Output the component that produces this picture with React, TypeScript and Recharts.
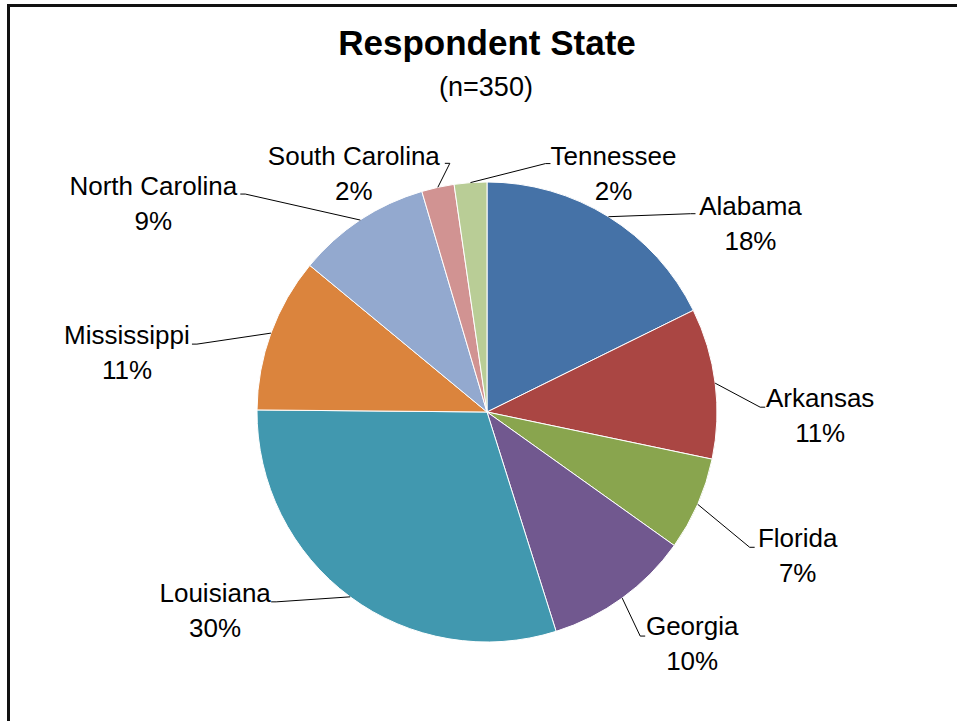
import React from 'react';
import { PieChart, Pie, Cell } from 'recharts';

const states = ['Alabama', 'Arkansas', 'Florida', 'Georgia', 'Louisiana', 'Mississippi', 'North Carolina', 'South Carolina', 'Tennessee'];
const counts = [62, 37, 23, 36, 105, 38, 33, 8, 8];
const colors = ['#4572A7', '#AA4643', '#89A54E', '#71588F', '#4198AF', '#DB843D', '#93A9CF', '#D19392', '#B9CD96'];

const title = 'Respondent State';
const subtitle = '(n=350)';

// label layout: leader end offset from slice edge (dx, dy), text centre offset from end (tx), baseline offset (by)
const labelLayout = [
  { dx: 87, dy: -3, tx: 55, by: 1 },
  { dx: 50, dy: 24, tx: 55, by: 0 },
  { dx: 57, dy: 43, tx: 43, by: 0 },
  { dx: 23, dy: 38, tx: 47, by: -1 },
  { dx: -79, dy: 5, tx: -56, by: 0 },
  { dx: -79, dy: 11, tx: -65, by: 0 },
  { dx: -120, dy: -26, tx: -87, by: 1 },
  { dx: 7, dy: -24, tx: -91, by: 2 },
  { dx: 80, dy: -19, tx: 63, by: 1 },
];

const data = states.map((name, i) => ({ name, value: counts[i] }));

const FONT = '"Liberation Sans", Arial, sans-serif';
const RAD = Math.PI / 180;

function renderLabel(props: any) {
  const { cx, cy, midAngle, outerRadius, index, percent, name } = props;
  const lay = labelLayout[index];
  const x0 = cx + outerRadius * Math.cos(-midAngle * RAD);
  const y0 = cy + outerRadius * Math.sin(-midAngle * RAD);
  const ex = x0 + lay.dx;
  const ey = y0 + lay.dy;
  const side = lay.tx > 0 ? 1 : -1;
  const kx = ex - side * 5;
  const tx = ex + lay.tx;
  const base = ey + lay.by;
  return (
    <g key={`lbl-${index}`}>
      <polyline points={`${x0},${y0} ${kx},${ey} ${ex},${ey}`} fill="none" stroke="#000" strokeWidth={1} />
      <text x={tx} y={base} textAnchor="middle" fontSize={26} fontFamily={FONT} fill="#000">{name}</text>
      <text x={tx} y={base + 35} textAnchor="middle" fontSize={26} fontFamily={FONT} fill="#000">{`${Math.round(percent * 100)}%`}</text>
    </g>
  );
}

export default function App() {
  return (
    <div style={{ position: 'absolute', left: 0, top: 0, width: 957, height: 721, background: '#fff', overflow: 'hidden' }}>
      <div style={{ position: 'absolute', left: 7, top: 4, width: 980, height: 740, borderTop: '3px solid #111', borderLeft: '3px solid #111' }} />
      <svg width={957} height={721} style={{ position: 'absolute', left: 0, top: 0 }}>
        <text x={487} y={55} textAnchor="middle" fontSize={35} fontWeight="bold" fontFamily={FONT} fill="#000">{title}</text>
        <text x={486} y={96} textAnchor="middle" fontSize={27} fontFamily={FONT} fill="#000">{subtitle}</text>
      </svg>
      <div style={{ position: 'absolute', left: 0, top: 0 }}>
        <PieChart width={957} height={721} margin={{ top: 0, right: 0, bottom: 0, left: 0 }}>
          <Pie
            data={data}
            dataKey="value"
            nameKey="name"
            cx={487}
            cy={412}
            outerRadius={230}
            startAngle={90}
            endAngle={-270}
            stroke="#fff"
            strokeWidth={1}
            label={renderLabel}
            labelLine={false}
            isAnimationActive={false}
          >
            {data.map((d, i) => (
              <Cell key={`cell-${i}`} fill={colors[i]} />
            ))}
          </Pie>
        </PieChart>
      </div>
    </div>
  );
}
